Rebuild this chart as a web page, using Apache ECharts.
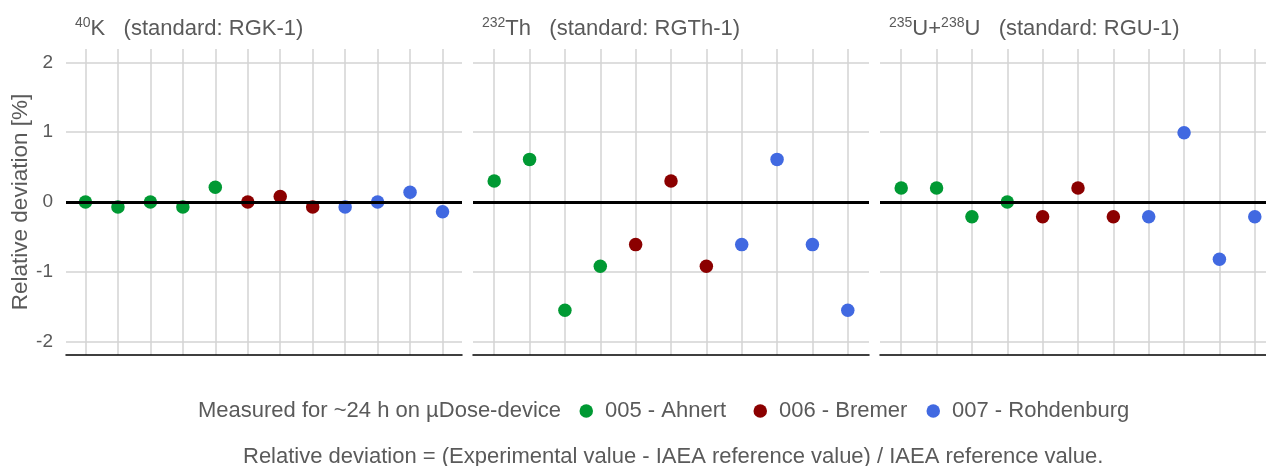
<!DOCTYPE html>
<html>
<head>
<meta charset="utf-8">
<script src="https://cdn.jsdelivr.net/npm/echarts@6/dist/echarts.min.js"></script>
<style>
html,body{margin:0;padding:0;background:#fff;}
#chart{width:1266px;height:466px;}
</style>
</head>
<body>
<div id="chart"></div>
<script>
// ---- data ----
const groupNames = ['005 - Ahnert', '006 - Bremer', '007 - Rohdenburg'];
const groupColors = ['#009933', '#8B0000', '#4169E1'];
const panelTitles = [
  '{sup|40}{main|K   (standard: RGK-1)}',
  '{sup|232}{main|Th   (standard: RGTh-1)}',
  '{sup|235}{main|U+}{sup|238}{main|U   (standard: RGU-1)}'
];
// values per panel, per group (in order of x position)
const kAhnert = [0, -0.07, 0, -0.07, 0.21];
const kBremer = [0, 0.08, -0.07];
const kRohdenburg = [-0.07, 0, 0.14, -0.14];
const thAhnert = [0.30, 0.61, -1.55, -0.92];
const thBremer = [-0.61, 0.30, -0.92];
const thRohdenburg = [-0.61, 0.61, -0.61, -1.55];
const uAhnert = [0.20, 0.20, -0.21, 0];
const uBremer = [-0.21, 0.20, -0.21];
const uRohdenburg = [-0.21, 0.99, -0.82, -0.21];
const yTicks = [-2, -1, 0, 1, 2];
const legendPrefix = 'Measured for ~24 h on \u00B5Dose-device';
const footnote = 'Relative deviation = (Experimental value - IAEA reference value) / IAEA reference value.';
const yAxisName = 'Relative deviation [%]';

const panels = [
  [kAhnert, kBremer, kRohdenburg],
  [thAhnert, thBremer, thRohdenburg],
  [uAhnert, uBremer, uRohdenburg]
];

// ---- layout ----
const FONT = "'Liberation Sans', Arial, sans-serif";
const TXT = '#5a5a5a';
const FS = 22;
const gridLefts = [66, 473, 880];
const gridWidth = 396;
const gridTop = 49;
const gridHeight = 306;
const legendLefts = [579.5, 753.5, 926.5];

const grids = [], xAxes = [], yAxes = [], series = [], titles = [], legends = [];
panels.forEach((groups, p) => {
  const n = groups.reduce((s, g) => s + g.length, 0);
  const cats = [];
  for (let i = 1; i <= n; i++) cats.push(i);
  grids.push({left: gridLefts[p], top: gridTop, width: gridWidth, height: gridHeight,
    outerBoundsMode: 'none', containLabel: false});
  xAxes.push({
    type: 'value', gridIndex: p, min: 0.4, max: n + 0.6,
    axisLine: {show: true, onZero: false, lineStyle: {color: '#000', width: 1.5}},
    axisTick: {show: false, customValues: cats},
    axisLabel: {show: false, customValues: cats},
    splitLine: {show: true, lineStyle: {color: '#d3d3d3', width: 1.5}}
  });
  yAxes.push({
    type: 'value', gridIndex: p, min: -2.19, max: 2.19,
    axisLine: {show: false},
    axisTick: {show: false, customValues: yTicks},
    axisLabel: {show: p === 0, customValues: yTicks, color: TXT, fontSize: 19, fontFamily: FONT, margin: 13},
    splitLine: {show: true, lineStyle: {color: '#d3d3d3', width: 1.5}},
    name: p === 0 ? yAxisName : '',
    nameLocation: 'middle', nameGap: 33,
    nameTextStyle: {color: TXT, fontSize: 22.5, fontFamily: FONT}
  });
  // zero line
  series.push({
    type: 'scatter', xAxisIndex: p, yAxisIndex: p, data: [], z: 1, silent: true,
    markLine: {silent: true, symbol: ['none', 'none'], label: {show: false},
      lineStyle: {color: '#000', width: 3, type: 'solid'}, data: [{yAxis: 0}]}
  });
  let x = 1;
  groups.forEach((vals, g) => {
    series.push({
      name: groupNames[g], type: 'scatter', xAxisIndex: p, yAxisIndex: p, z: 3,
      symbolSize: 13.5, itemStyle: {color: groupColors[g], opacity: 1},
      data: vals.map(v => [x++, v])
    });
  });
  titles.push({
    text: panelTitles[p], left: gridLefts[p] + 9, top: 16, padding: 0,
    textStyle: {
      fontWeight: 'normal',
      rich: {
        sup: {fontSize: 14, color: TXT, fontFamily: FONT, fontWeight: 'normal', verticalAlign: 'top', lineHeight: 26},
        main: {fontSize: FS, color: TXT, fontFamily: FONT, fontWeight: 'normal', lineHeight: 26}
      }
    }
  });
});
groupNames.forEach((nm, g) => {
  legends.push({
    data: [nm], left: legendLefts[g], top: 400, padding: 0, icon: 'circle',
    itemWidth: 13.5, itemHeight: 13.5,
    textStyle: {fontSize: FS, color: TXT, fontFamily: FONT, padding: [0, 0, 0, 7]}
  });
});
titles.push({text: legendPrefix, left: 198, top: 400, padding: 0,
  textStyle: {fontSize: FS, fontWeight: 'normal', color: TXT, fontFamily: FONT}});
titles.push({text: footnote, left: 243, top: 446, padding: 0,
  textStyle: {fontSize: FS, fontWeight: 'normal', color: TXT, fontFamily: FONT}});

const chart = echarts.init(document.getElementById('chart'), null, {renderer: 'canvas'});
chart.setOption({
  backgroundColor: '#fff',
  animation: false,
  title: titles,
  grid: grids,
  xAxis: xAxes,
  yAxis: yAxes,
  legend: legends,
  series: series
});
</script>
</body>
</html>
